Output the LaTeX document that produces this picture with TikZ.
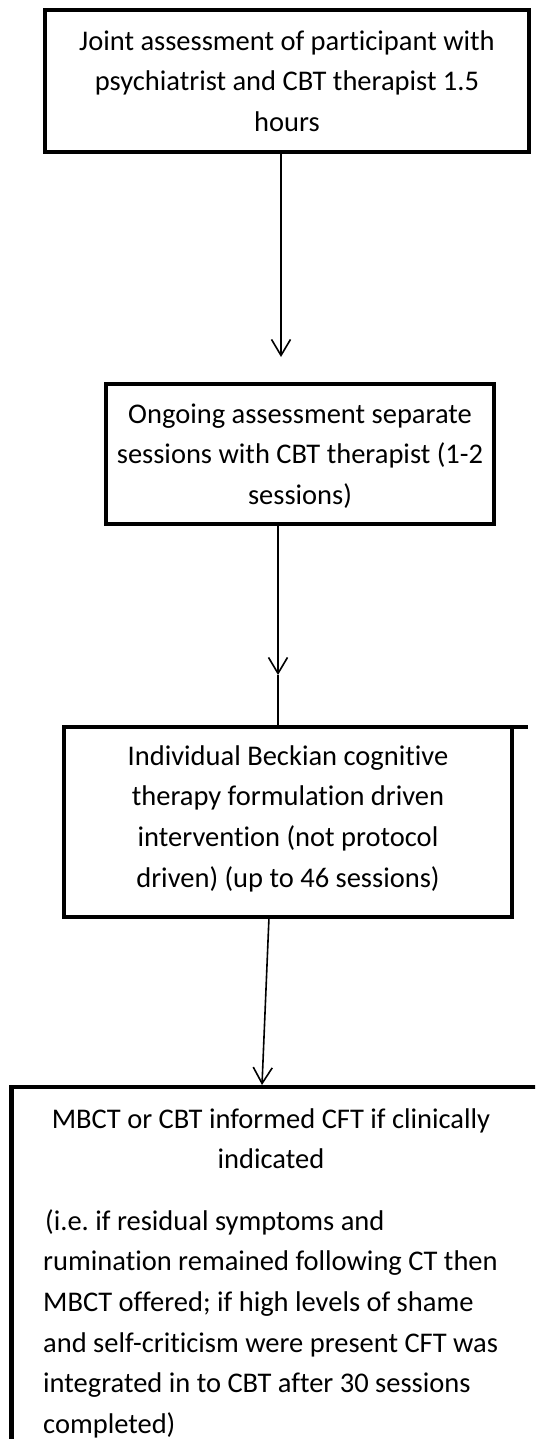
\documentclass[tikz,border=0pt]{standalone}
\usepackage{fontspec}
\setmainfont{Carlito}[Ligatures=CommonOff]
\usetikzlibrary{arrows.meta}
\frenchspacing
\begin{document}
\begin{tikzpicture}[x=1pt,y=-1pt,
  boxst/.style={draw=black, line width=4.5pt, rectangle, inner sep=0pt, outer sep=0pt},
  boxline/.style={draw=black, line width=4.5pt},
  txt/.style={inner sep=0pt, anchor=north, align=center, font=\fontsize{28.5}{40.6}\selectfont},
  txtl/.style={txt, anchor=north west, align=left},
  conn/.style={draw=black, line width=1.6pt},
  arr/.style={conn, -{Straight Barb[length=16pt,width=19pt,line width=1.6pt]}}
]
\useasboundingbox (0,0) rectangle (535,1439);
\clip (0,0) rectangle (535,1439);

% boxes
\node[boxst, minimum width=484pt, minimum height=142pt] (b1) at (287,81) {};
\node[boxst, minimum width=388pt, minimum height=140pt] (b2) at (300,454) {};
\node[boxst, minimum width=448pt, minimum height=190pt] (b3) at (288,822) {};
\draw[boxline] (b3.north east) -- ++(16,0);
\node[boxst, minimum width=588.5pt, minimum height=413pt] (b4) at (305.75,1293.5) {};

% texts
\node[txt] (t1) at (287,21.58) {\strut Joint assessment of participant with\\psychiatrist and CBT therapist 1.5\\hours};
\node[txt] (t2) at (300,394.58) {\strut Ongoing assessment separate\\sessions with CBT therapist (1-2\\sessions)};
\node[txt] (t3) at (288,736.58) {\strut Individual Beckian cognitive\\therapy formulation driven\\intervention (not protocol\\driven) (up to 46 sessions)};
\node[txt] (t4a) at (271,1099.58) {\strut MBCT or CBT informed CFT if clinically\\indicated};
\node[txtl] (t4b) at (43,1201.58) {\strut\hspace*{2pt}(i.e. if residual symptoms and\\rumination remained following CT then\\MBCT offered; if high levels of shame\\and self-criticism were present CFT was\\integrated in to CBT after 30 sessions\\completed)};

% connectors
\coordinate (a1tip) at (281,357);
\draw[arr] (b1.south -| a1tip) -- (a1tip);

\coordinate (a2tip) at (278,675);
\draw[arr] (b2.south -| a2tip) -- (a2tip);
\draw[conn] (a2tip) -- (b3.north -| a2tip);

\coordinate (a3start) at (269,917);
\coordinate (a3tip) at (262,1085);
\draw[arr] (a3start) -- (a3tip);
\end{tikzpicture}
\end{document}
